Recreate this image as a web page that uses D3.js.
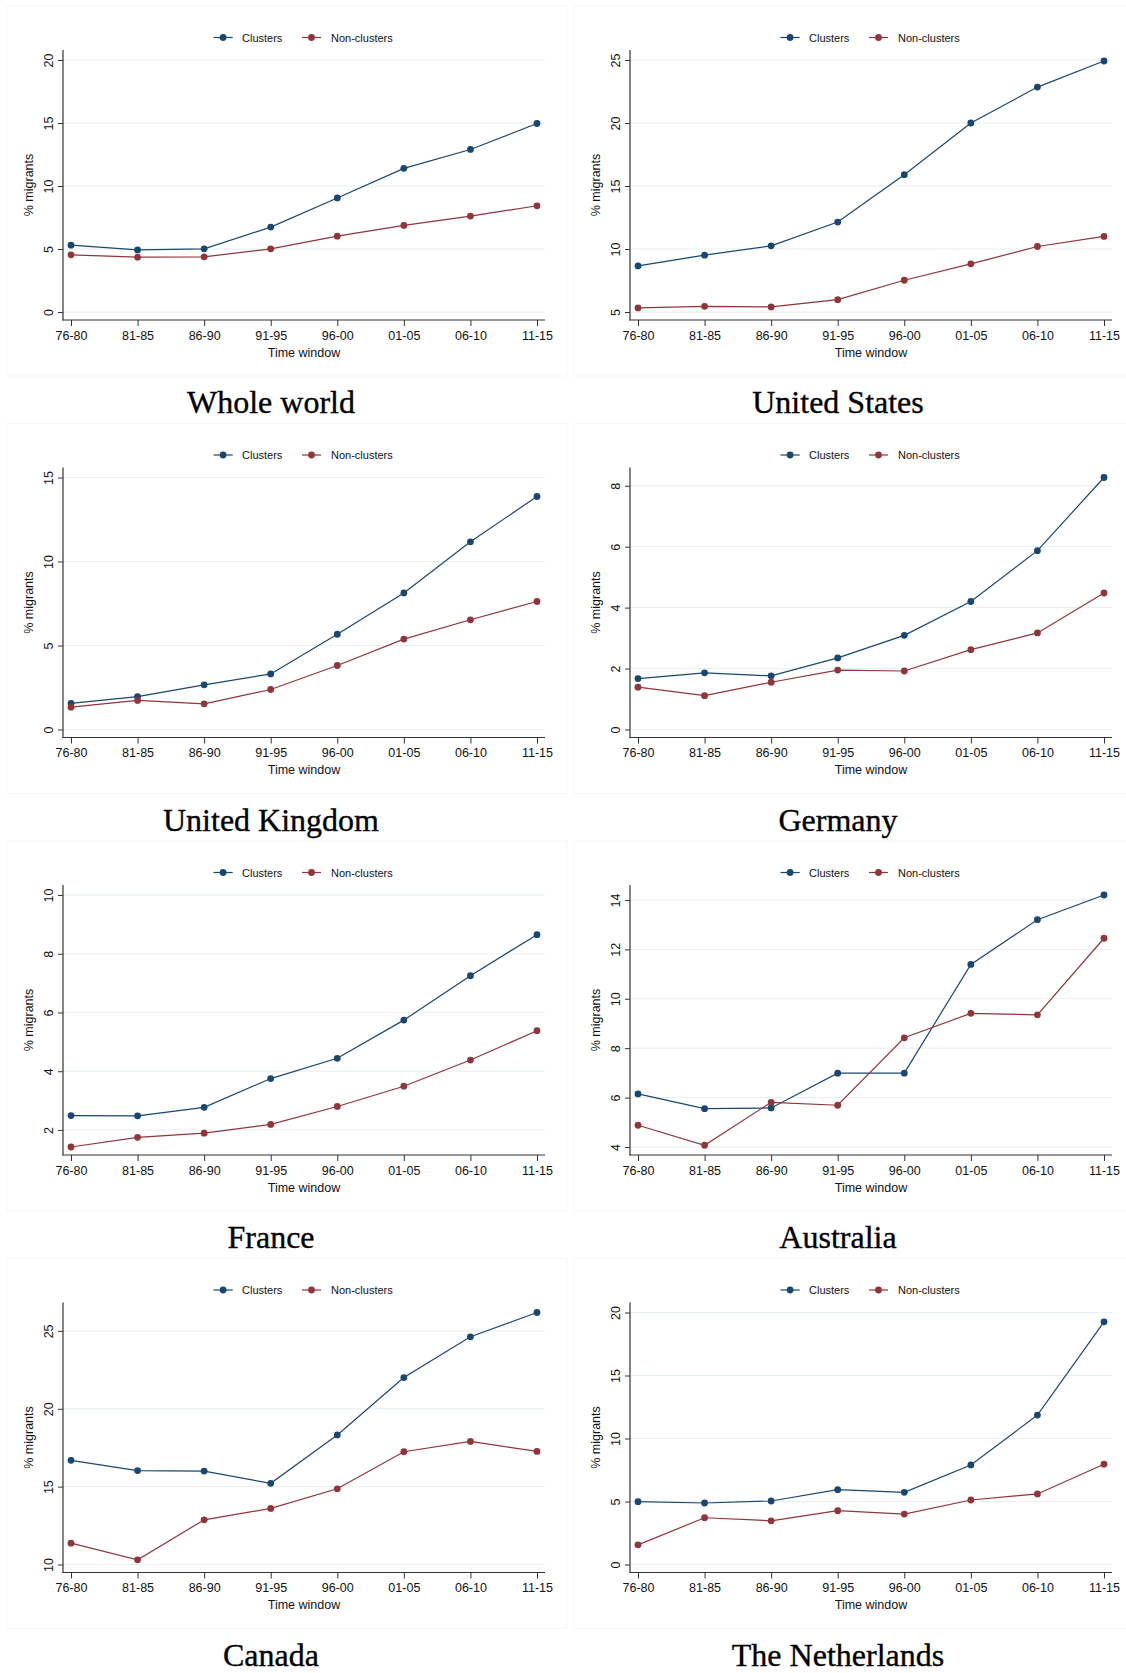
<!DOCTYPE html>
<html>
<head>
<meta charset="utf-8">
<script src="https://cdn.jsdelivr.net/npm/d3@7"></script>
<style>
  html, body { margin: 0; padding: 0; background: #fff; }
  svg { display: block; }
</style>
</head>
<body>
<svg id="chart" width="1126" height="1673"></svg>
<script>
// ---------- DATA ----------
const periods = ["76-80","81-85","86-90","91-95","96-00","01-05","06-10","11-15"];
const seriesNames = ["Clusters", "Non-clusters"];
const countries = ["Whole world","United States","United Kingdom","Germany","France","Australia","Canada","The Netherlands"];

const worldClusters    = [5.3, 4.93, 5.01, 6.74, 9.05, 11.4, 12.9, 14.96];
const worldNon         = [4.54, 4.35, 4.38, 5.01, 6.02, 6.87, 7.61, 8.43];
const usClusters       = [8.66, 9.51, 10.25, 12.14, 15.9, 20.0, 22.85, 24.92];
const usNon            = [5.32, 5.45, 5.40, 5.98, 7.52, 8.82, 10.2, 11.0];
const ukClusters       = [1.55, 1.96, 2.66, 3.31, 5.67, 8.13, 11.17, 13.87];
const ukNon            = [1.33, 1.73, 1.53, 2.38, 3.81, 5.38, 6.53, 7.62];
const deClusters       = [1.67, 1.86, 1.76, 2.35, 3.09, 4.20, 5.87, 8.27];
const deNon            = [1.39, 1.11, 1.55, 1.95, 1.92, 2.62, 3.17, 4.48];
const frClusters       = [2.49, 2.48, 2.77, 3.75, 4.44, 5.74, 7.25, 8.65];
const frNon            = [1.42, 1.75, 1.89, 2.19, 2.80, 3.49, 4.38, 5.38];
const auClusters       = [6.15, 5.55, 5.58, 6.99, 6.99, 11.39, 13.2, 14.2];
const auNon            = [4.88, 4.07, 5.81, 5.69, 8.42, 9.41, 9.35, 12.45];
const caClusters       = [16.69, 16.03, 16.0, 15.21, 18.32, 22.0, 24.62, 26.18];
const caNon            = [11.37, 10.3, 12.87, 13.6, 14.86, 17.24, 17.9, 17.26];
const nlClusters       = [4.99, 4.88, 5.04, 5.94, 5.73, 7.9, 11.86, 19.26];
const nlNon            = [1.56, 3.71, 3.47, 4.27, 4.0, 5.12, 5.6, 7.96];

const worldTicks = [0,5,10,15,20];
const usTicks    = [5,10,15,20,25];
const ukTicks    = [0,5,10,15];
const deTicks    = [0,2,4,6,8];
const frTicks    = [2,4,6,8,10];
const auTicks    = [4,6,8,10,12,14];
const caTicks    = [10,15,20,25];
const nlTicks    = [0,5,10,15,20];

const xTitle = "Time window";
const yTitle = "% migrants";

// ---------- PANELS ----------
const panels = [
  {name: countries[0], c: worldClusters, n: worldNon, ticks: worldTicks},
  {name: countries[1], c: usClusters,    n: usNon,    ticks: usTicks},
  {name: countries[2], c: ukClusters,    n: ukNon,    ticks: ukTicks},
  {name: countries[3], c: deClusters,    n: deNon,    ticks: deTicks},
  {name: countries[4], c: frClusters,    n: frNon,    ticks: frTicks},
  {name: countries[5], c: auClusters,    n: auNon,    ticks: auTicks},
  {name: countries[6], c: caClusters,    n: caNon,    ticks: caTicks},
  {name: countries[7], c: nlClusters,    n: nlNon,    ticks: nlTicks}
];

const colors = ["#1a476f", "#90353b"];
const svg = d3.select("#chart");
const colW = 567, rowH = 417.5;
const sans = "'Liberation Sans', Arial, Helvetica, sans-serif";

panels.forEach((p, i) => {
  const col = i % 2, row = Math.floor(i / 2);
  const g = svg.append("g").attr("transform", `translate(${col * colW},${row * rowH})`);

  // very faint panel frame
  g.append("rect").attr("x", 7).attr("y", 6).attr("width", 560).attr("height", 370)
    .attr("fill", "none").attr("stroke", "#f7f7f7").attr("stroke-width", 1);

  const axisLeftX = 63, axisRightX = 545, axisY = 320, axisTop = 50;
  const x = d3.scalePoint().domain(periods).range([71, 537]).padding(0);
  const all = p.c.concat(p.n);
  const lo = Math.min(d3.min(p.ticks), d3.min(all));
  const hi = Math.max(d3.max(p.ticks), d3.max(all));
  const y = d3.scaleLinear().domain([lo, hi]).range([312, 60]);

  // gridlines
  g.append("g").selectAll("line").data(p.ticks).join("line")
    .attr("x1", axisLeftX).attr("x2", axisRightX)
    .attr("y1", d => y(d)).attr("y2", d => y(d))
    .attr("stroke", "#e6eff1").attr("stroke-width", 1);

  // y axis
  const yAx = g.append("g").attr("transform", `translate(${axisLeftX},0)`)
    .call(d3.axisLeft(y).tickValues(p.ticks).tickSize(5).tickSizeOuter(0).tickFormat(d3.format("d")));
  yAx.select(".domain").remove();
  yAx.selectAll(".tick line").attr("stroke", "#333");
  yAx.selectAll(".tick text")
    .attr("transform", "rotate(-90)").attr("x", 0).attr("y", -10).attr("dy", "0")
    .style("text-anchor", "middle").style("font-family", sans).style("font-size", "12.5px").attr("fill", "#111");
  g.append("line").attr("x1", axisLeftX).attr("x2", axisLeftX).attr("y1", axisTop).attr("y2", axisY + 0.5)
    .attr("stroke", "#333").attr("stroke-width", 1.2);

  // x axis
  const xAx = g.append("g").attr("transform", `translate(0,${axisY})`)
    .call(d3.axisBottom(x).tickSize(6).tickSizeOuter(0));
  xAx.select(".domain").remove();
  xAx.selectAll(".tick line").attr("stroke", "#333");
  xAx.selectAll(".tick text").attr("y", 19.5).attr("dy", "0")
    .style("font-family", sans).style("font-size", "12.5px").attr("fill", "#111");
  g.append("line").attr("x1", axisLeftX - 0.5).attr("x2", axisRightX).attr("y1", axisY).attr("y2", axisY)
    .attr("stroke", "#333").attr("stroke-width", 1.2);

  // axis titles
  g.append("text").attr("x", (axisLeftX + axisRightX) / 2).attr("y", 356.5)
    .attr("text-anchor", "middle").style("font-family", sans).style("font-size", "12.5px").attr("fill", "#111")
    .text(xTitle);
  g.append("text").attr("transform", `translate(33,185) rotate(-90)`)
    .attr("text-anchor", "middle").style("font-family", sans).style("font-size", "12.5px").attr("fill", "#111")
    .text(yTitle);

  // series
  const line = d3.line().x((d, k) => x(periods[k])).y(d => y(d));
  [p.c, p.n].forEach((vals, s) => {
    g.append("path").datum(vals).attr("d", line)
      .attr("fill", "none").attr("stroke", colors[s]).attr("stroke-width", 1.2);
    g.append("g").selectAll("circle").data(vals).join("circle")
      .attr("cx", (d, k) => x(periods[k])).attr("cy", d => y(d)).attr("r", 3.4)
      .attr("fill", colors[s]);
  });

  // legend
  const leg = [{lx1: 213.5, lx2: 232.7, tx: 242}, {lx1: 302, lx2: 321, tx: 331}];
  leg.forEach((L, s) => {
    g.append("line").attr("x1", L.lx1).attr("x2", L.lx2).attr("y1", 37.5).attr("y2", 37.5)
      .attr("stroke", colors[s]).attr("stroke-width", 1.2);
    g.append("circle").attr("cx", (L.lx1 + L.lx2) / 2).attr("cy", 37.5).attr("r", 3.4).attr("fill", colors[s]);
    g.append("text").attr("x", L.tx).attr("y", 41.5)
      .style("font-family", sans).style("font-size", "11px").attr("fill", "#111")
      .text(seriesNames[s]);
  });

  // panel title
  g.append("text").attr("x", 271).attr("y", 413)
    .attr("text-anchor", "middle").style("font-family", "'Liberation Serif', 'Times New Roman', serif")
    .style("font-size", "32px").attr("fill", "#000")
    .attr("stroke", "#000").attr("stroke-width", 0.35)
    .text(p.name);
});
</script>
</body>
</html>
